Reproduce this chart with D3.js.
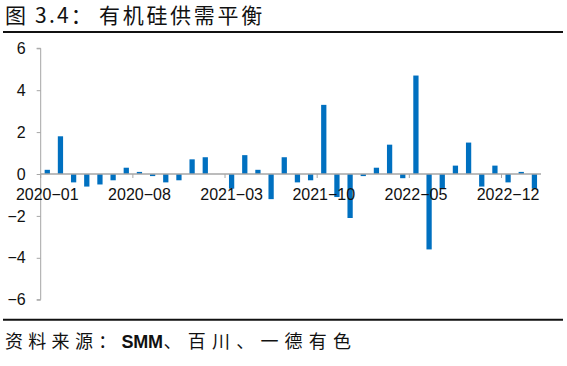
<!DOCTYPE html>
<html><head><meta charset="utf-8">
<script src="https://cdn.jsdelivr.net/npm/d3@7"></script>
<style>
body{margin:0;background:#fff;}
svg{display:block;}
</style></head>
<body><svg id="c" width="567" height="366"></svg>
<script>
const months = ["2020-01","2020-02","2020-03","2020-04","2020-05","2020-06","2020-07","2020-08","2020-09","2020-10","2020-11","2020-12",
"2021-01","2021-02","2021-03","2021-04","2021-05","2021-06","2021-07","2021-08","2021-09","2021-10","2021-11","2021-12",
"2022-01","2022-02","2022-03","2022-04","2022-05","2022-06","2022-07","2022-08","2022-09","2022-10","2022-11","2022-12",
"2023-01","2023-02"];
const balance = [0.2,1.8,-0.4,-0.6,-0.5,-0.3,0.3,0.1,-0.1,-0.4,-0.3,0.7,
0.8,0,-0.7,0.9,0.2,-1.2,0.8,-0.4,-0.3,3.3,-1.1,-2.1,
-0.1,0.3,1.4,-0.2,4.7,-3.6,-0.7,0.4,1.5,-0.6,0.4,-0.4,
0.1,-0.7];
const yTicks = [-6,-4,-2,0,2,4,6];
const xTickLabels = ["2020-01","2020-08","2021-03","2021-10","2022-05","2022-12"];
const titleParts = ["图 3.4：", "有机硅供需平衡"];
const sourceParts = ["资料来源：", "SMM", "、百川、一德有色"];

const svg = d3.select("#c");
const pL = 40.7, pR = 541, pT = 48.3, pB = 299.7;
const x = d3.scaleBand().domain(months).range([pL, pR]).paddingInner(0.6).paddingOuter(0.3);
const y = d3.scaleLinear().domain([-6, 6]).range([pB, pT]);
const axisCol = "#A6A6A6";
const lab = d => d.replace(/-/g, "\u2212");
const cjk = "'Noto Sans CJK SC'";
const latin = "'Liberation Sans', Arial, sans-serif";

// title and rules
const t = svg.append("text").attr("y", 23).attr("font-family", cjk).attr("font-size", 21).attr("fill", "#111");
t.append("tspan").attr("x", 5).attr("letter-spacing", 2.2).text(titleParts[0]);
t.append("tspan").attr("x", 99).attr("letter-spacing", 2.7).text(titleParts[1]);
svg.append("line").attr("x1", 3).attr("x2", 563).attr("y1", 32).attr("y2", 32).attr("stroke", "#111").attr("stroke-width", 2);
svg.append("line").attr("x1", 3).attr("x2", 563).attr("y1", 319.7).attr("y2", 319.7).attr("stroke", "#111").attr("stroke-width", 2);
const s = svg.append("text").attr("x", 5).attr("y", 348).attr("font-family", cjk).attr("font-size", 18).attr("fill", "#111");
s.append("tspan").attr("letter-spacing", 5.3).text(sourceParts[0]);
s.append("tspan").attr("font-family", "'Liberation Sans Narrow', 'Liberation Sans', sans-serif").attr("font-weight", "bold").attr("font-size", 18).attr("letter-spacing", -0.3).text(sourceParts[1]);
s.append("tspan").attr("dx", 1).attr("letter-spacing", 6.2).text(sourceParts[2]);

// bars
svg.append("g").selectAll("rect").data(months).join("rect")
  .attr("x", (d) => x(d))
  .attr("width", x.bandwidth())
  .attr("y", (d, i) => y(Math.max(0, balance[i])))
  .attr("height", (d, i) => Math.abs(y(balance[i]) - y(0)))
  .attr("fill", "#0070C0");

// y axis
const yAxis = d3.axisLeft(y).tickValues(yTicks).tickSize(4).tickPadding(11).tickFormat(d => lab(String(d)));
const gy = svg.append("g").attr("transform", `translate(${pL},0)`).call(yAxis);
gy.select(".domain").attr("stroke", axisCol).attr("d", `M-4,${pT}H0V${pB}H-4`);
gy.selectAll(".tick line").attr("stroke", axisCol);
gy.selectAll(".tick text").attr("font-family", latin).attr("font-size", 16).attr("fill", "#111");

// x axis at zero
const step = x.step();
const gx = svg.append("g").attr("transform", `translate(0,${y(0)})`);
gx.append("line").attr("x1", pL).attr("x2", pR).attr("stroke", axisCol).attr("stroke-width", 1.3);
const xAxis = d3.axisBottom(x).tickValues(xTickLabels).tickSize(0).tickPadding(0).tickFormat(lab);
const gxa = gx.append("g").call(xAxis);
gxa.select(".domain").remove();
gxa.selectAll(".tick text").attr("font-family", latin).attr("font-size", 16).attr("fill", "#111").attr("dy", "1.1em").attr("y", 8);
xTickLabels.forEach(m => {
  const bx = x(m) - (step - x.bandwidth())/2;
  gx.append("line").attr("x1", bx).attr("x2", bx).attr("y1", 0).attr("y2", 4).attr("stroke", axisCol);
});
</script></body></html>
